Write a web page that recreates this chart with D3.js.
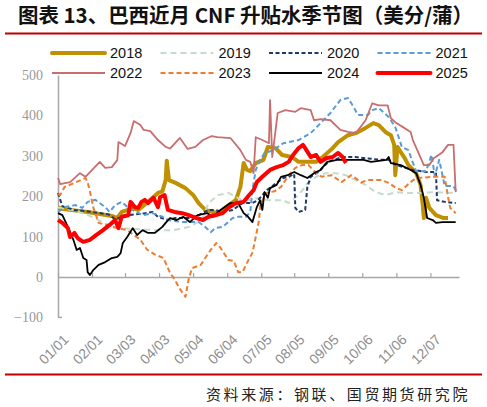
<!DOCTYPE html>
<html>
<head>
<meta charset="utf-8">
<script src="https://cdn.jsdelivr.net/npm/d3@7"></script>
<style>
  html, body { margin: 0; padding: 0; background: #fff; }
  svg { display: block; }
</style>
</head>
<body>
<svg id="chart" width="487" height="407"></svg>
<script>
// day-of-year ticks on the category axis
const tickDays = [0, 31, 61, 92, 123, 154, 185, 215, 246, 277, 308, 339];
const tickLabels = ["01/01", "02/01", "03/03", "04/03", "05/04", "06/04",
                    "07/05", "08/05", "09/05", "10/06", "11/06", "12/07"];
const yTicks = [-100, 0, 100, 200, 300, 400, 500];

const years = ["2018", "2019", "2020", "2021", "2022", "2023", "2024", "2025"];

// [day of year, US cents/bushel]
const s2018 = [[0,172],[5,168],[27,161],[49,151],[54,146],[58,161],[68,170],[73,166],[82,186],[91,208],[95,212],
  [98,240],[99,288],[101,240],[107,233],[116,220],[123,203],[128,183],[134,166],[141,161],[146,158],[153,173],
  [162,191],[166,223],[169,282],[172,265],[175,262],[180,282],[187,290],[191,322],[198,319],[204,302],[213,297],
  [219,285],[235,285],[241,297],[250,319],[255,334],[264,351],[271,356],[280,369],[287,381],[292,376],[298,359],
  [303,351],[306,327],[307,252],[309,322],[312,309],[315,297],[319,277],[326,257],[330,228],[332,178],[333,146],
  [335,196],[338,171],[344,153],[351,146],[355,146]];
const s2019 = [[0,172],[15,165],[30,150],[45,130],[55,121],[70,119],[90,116],[105,116],[119,124],[131,141],
  [137,183],[146,203],[155,208],[168,190],[177,190],[182,196],[191,190],[205,190],[210,183],[219,203],[228,235],
  [235,248],[244,257],[253,257],[262,252],[271,240],[280,228],[289,210],[298,203],[308,210],[317,208],[328,208],
  [341,210],[362,208]];
const s2020 = [[0,208],[4,175],[15,166],[31,161],[46,155],[52,143],[63,153],[79,158],[86,161],[91,149],[100,141],
  [107,146],[119,146],[128,153],[137,166],[143,166],[150,161],[159,166],[168,183],[177,183],[182,190],[190,215],
  [205,245],[210,248],[215,255],[216,171],[219,161],[225,166],[227,223],[230,248],[237,260],[246,285],[259,297],
  [271,297],[280,294],[294,290],[301,290],[308,277],[317,270],[323,265],[335,260],[344,260],[345,190],[352,186],
  [362,183]];
const s2021 = [[0,161],[6,173],[16,178],[22,171],[27,186],[34,191],[43,173],[47,161],[52,178],[58,186],[64,171],
  [77,153],[86,158],[95,149],[100,141],[113,136],[128,136],[134,124],[139,111],[143,121],[150,124],[159,146],
  [164,149],[171,149],[175,161],[177,215],[180,265],[184,290],[188,307],[196,314],[205,331],[219,339],[230,356],
  [239,381],[248,406],[257,438],[264,443],[269,421],[273,401],[282,401],[286,413],[292,418],[301,396],[307,371],
  [313,322],[319,314],[322,290],[326,262],[335,262],[340,302],[343,250],[347,290],[352,225],[360,225],[363,210]];
const s2022 = [[0,245],[2,230],[11,235],[20,257],[25,248],[38,285],[43,270],[49,272],[54,290],[55,334],[61,324],
  [66,356],[69,386],[75,376],[78,364],[84,361],[91,339],[98,322],[102,318],[109,339],[111,344],[118,317],[125,322],
  [132,339],[140,349],[145,346],[157,344],[166,314],[171,290],[175,285],[178,257],[180,346],[186,339],[192,331],
  [193,438],[195,297],[200,406],[207,413],[216,409],[221,418],[230,413],[233,388],[239,391],[248,388],[257,364],
  [264,359],[271,356],[280,388],[286,430],[292,425],[300,425],[303,393],[308,381],[314,371],[321,359],[323,339],
  [333,277],[338,277],[342,294],[350,309],[355,327],[360,327],[362,210]];
const s2023 = [[0,205],[2,203],[6,223],[15,233],[25,245],[27,235],[30,200],[32,173],[37,134],[50,124],[63,116],
  [75,92],[81,68],[88,56],[96,47],[102,10],[106,-5],[111,-30],[116,-49],[119,-5],[122,22],[130,30],[134,47],
  [139,67],[144,84],[148,72],[155,42],[160,40],[164,12],[168,12],[172,35],[177,60],[180,99],[183,141],[184,175],
  [189,208],[197,212],[203,223],[210,252],[216,270],[222,277],[228,277],[234,260],[240,248],[249,252],[258,235],
  [267,252],[276,234],[282,240],[294,240],[301,233],[308,220],[313,215],[320,233],[326,245],[343,248],[352,248],
  [355,198],[357,171],[362,158]];
const s2024 = [[0,158],[4,153],[9,124],[14,92],[17,67],[20,72],[23,47],[26,42],[27,12],[29,5],[32,17],[37,30],
  [43,37],[49,47],[54,50],[57,59],[59,84],[63,99],[68,121],[72,104],[77,116],[82,109],[88,109],[95,124],[98,134],
  [102,146],[108,141],[114,149],[120,136],[127,153],[136,158],[141,149],[148,166],[157,183],[164,183],[169,158],
  [173,149],[177,136],[181,173],[184,190],[186,166],[188,210],[191,196],[193,220],[199,228],[203,248],[209,252],
  [215,260],[221,252],[227,245],[233,257],[239,265],[245,285],[254,290],[266,290],[278,290],[285,285],[299,290],
  [301,297],[303,282],[312,277],[321,265],[326,257],[330,228],[333,196],[336,146],[341,141],[344,134],[350,136],
  [362,136]];
const s2025 = [[0,141],[4,134],[9,121],[11,99],[15,109],[18,96],[23,87],[29,92],[35,104],[41,116],[47,129],
  [52,141],[55,121],[58,149],[64,153],[66,186],[70,173],[73,171],[76,186],[79,191],[82,183],[87,196],[91,173],
  [93,198],[97,203],[100,166],[106,161],[113,158],[119,153],[126,146],[132,141],[137,149],[143,153],[150,158],
  [155,171],[162,183],[169,186],[174,203],[178,215],[181,235],[186,248],[193,265],[199,272],[205,277],[210,285],
  [214,302],[219,319],[223,327],[225,319],[230,297],[235,302],[239,285],[244,294],[250,297],[255,307],[259,297],
  [262,282]];

const seriesData = [s2018, s2019, s2020, s2021, s2022, s2023, s2024, s2025];

// styles kept apart from the data
const lineStyle = {
  "2018": { color: "#bf9000", width: 4,   dash: null },
  "2019": { color: "#c5dbcb", width: 2,   dash: "6,4" },
  "2020": { color: "#1f3864", width: 2,   dash: "4,2.5" },
  "2021": { color: "#5b9bd5", width: 2,   dash: "5,3" },
  "2022": { color: "#c96e6e", width: 1.8, dash: null },
  "2023": { color: "#ed7d31", width: 2,   dash: "5,3" },
  "2024": { color: "#000000", width: 1.8, dash: null },
  "2025": { color: "#ff0000", width: 4,   dash: null }
};

const svg = d3.select("#chart");

const x = d3.scaleLinear().domain([0, 365]).range([58, 459]);
const y = d3.scaleLinear().domain([-100, 500]).range([317.4, 75]);

// title and rules
svg.append("text")
    .attr("x", 18).attr("y", 23)
    .attr("font-family", "'Noto Sans CJK SC', sans-serif")
    .attr("font-weight", 700)
    .attr("font-size", 20.5)
    .attr("textLength", 455)
    .attr("lengthAdjust", "spacing")
    .attr("fill", "#111")
    .text("图表 13、巴西近月 CNF 升贴水季节图（美分/蒲）");

svg.append("line")
    .attr("x1", 5).attr("x2", 482).attr("y1", 33.5).attr("y2", 33.5)
    .attr("stroke", "#c00000").attr("stroke-width", 2);

svg.append("line")
    .attr("x1", 5).attr("x2", 482).attr("y1", 374.5).attr("y2", 374.5)
    .attr("stroke", "#c00000").attr("stroke-width", 2);

svg.append("text")
    .attr("x", 470).attr("y", 400)
    .attr("text-anchor", "end")
    .attr("font-family", "'Noto Sans CJK SC', sans-serif")
    .attr("font-size", 15)
    .attr("letter-spacing", 2.6)
    .attr("fill", "#222")
    .text("资料来源：钢联、国贸期货研究院");

// y axis
const yAxis = svg.append("g")
    .attr("transform", `translate(${x(0)},0)`)
    .call(d3.axisLeft(y).tickValues(yTicks).tickSize(0).tickPadding(15).tickFormat(d3.format("d")));
yAxis.select(".domain").attr("stroke", "#a6a6a6").attr("stroke-width", 1.5);
yAxis.selectAll("text")
    .attr("font-family", "'Liberation Serif', 'Times New Roman', serif")
    .attr("font-size", 14)
    .attr("fill", "#999");

svg.append("line")
    .attr("x1", x(0)).attr("x2", x(0) + 4)
    .attr("y1", y(-100)).attr("y2", y(-100))
    .attr("stroke", "#a6a6a6").attr("stroke-width", 1.5);

// x axis on the zero line, ticks pointing up
const xAxis = svg.append("g")
    .attr("transform", `translate(0,${y(0)})`)
    .call(d3.axisTop(x).tickValues(tickDays).tickSizeInner(4).tickSizeOuter(0).tickFormat(""));
xAxis.select(".domain").attr("stroke", "#a6a6a6").attr("stroke-width", 1.5);
xAxis.selectAll(".tick line").attr("stroke", "#a6a6a6").attr("stroke-width", 1.2);

// rotated date labels at the bottom
svg.append("g")
    .selectAll("text")
    .data(tickDays)
    .join("text")
    .attr("transform", d => `translate(${x(d) + 4},${333}) rotate(-45)`)
    .attr("text-anchor", "end")
    .attr("dy", "0.75em")
    .attr("font-family", "'Liberation Sans', Arial, sans-serif")
    .attr("font-size", 14)
    .attr("fill", "#8c8c8c")
    .text((d, i) => tickLabels[i]);

// lines
const line = d3.line()
    .x(d => x(d[0]))
    .y(d => y(d[1]));

svg.append("g")
    .selectAll("path")
    .data(years)
    .join("path")
    .attr("fill", "none")
    .attr("stroke", d => lineStyle[d].color)
    .attr("stroke-width", d => lineStyle[d].width)
    .attr("stroke-dasharray", d => lineStyle[d].dash)
    .attr("stroke-linejoin", "round")
    .attr("d", (d, i) => line(seriesData[i]));

// legend: two rows of four
const legend = svg.append("g")
    .selectAll("g")
    .data(years)
    .join("g")
    .attr("transform", (d, i) => `translate(${52 + (i % 4) * 108.5},${i < 4 ? 53 : 73})`);

legend.append("line")
    .attr("x1", 0).attr("x2", 53)
    .attr("stroke", d => lineStyle[d].color)
    .attr("stroke-width", d => lineStyle[d].width)
    .attr("stroke-dasharray", d => lineStyle[d].dash)
    .attr("stroke-linecap", d => lineStyle[d].width > 3 ? "round" : "butt");

legend.append("text")
    .attr("x", 58)
    .attr("dy", "0.36em")
    .attr("font-family", "'Liberation Sans', Arial, sans-serif")
    .attr("font-size", 14.5)
    .attr("fill", "#111")
    .text(d => d);
</script>
</body>
</html>
